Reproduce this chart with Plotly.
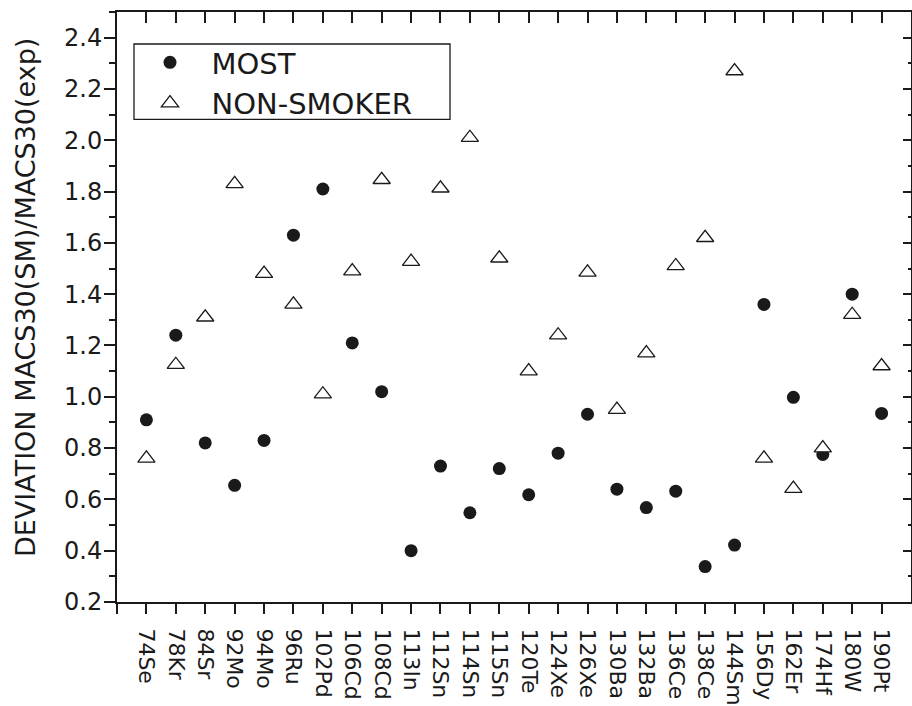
import plotly.graph_objects as go

# Isotopes along the x axis, in plotting order
isotopes = ["74Se", "78Kr", "84Sr", "92Mo", "94Mo", "96Ru", "102Pd", "106Cd",
            "108Cd", "113In", "112Sn", "114Sn", "115Sn", "120Te", "124Xe",
            "126Xe", "130Ba", "132Ba", "136Ce", "138Ce", "144Sm", "156Dy",
            "162Er", "174Hf", "180W", "190Pt"]

# MACS30 ratio (statistical model / experiment) for each code
most = [0.91, 1.24, 0.82, 0.655, 0.83, 1.63, 1.81, 1.21,
        1.02, 0.40, 0.73, 0.548, 0.72, 0.618, 0.78,
        0.932, 0.64, 0.568, 0.632, 0.338, 0.422, 1.36,
        0.998, 0.775, 1.40, 0.935]
non_smoker = [0.76, 1.125, 1.31, 1.83, 1.48, 1.36, 1.01, 1.49,
              1.846, 1.527, 1.813, 2.01, 1.54, 1.10, 1.24,
              1.485, 0.95, 1.17, 1.51, 1.62, 2.27, 0.76,
              0.642, 0.80, 1.32, 1.12]

y_ticks = [0.2, 0.4, 0.6, 0.8, 1.0, 1.2, 1.4, 1.6, 1.8, 2.0, 2.2, 2.4]
y_tick_text = [f"{v:.1f}" for v in y_ticks]
y_minor = [round(v + 0.1, 1) for v in y_ticks]

positions = list(range(1, len(isotopes) + 1))
x_tick_vals = [0] + positions
x_tick_text = [""] + isotopes

FONT = "DejaVu Sans"
INK = "#1a1a1a"

fig = go.Figure()
fig.add_trace(go.Scatter(
    x=positions, y=most, mode="markers", name="MOST",
    marker=dict(symbol="circle", size=13, color=INK, line=dict(width=0)),
))
fig.add_trace(go.Scatter(
    x=positions, y=non_smoker, mode="markers", name="NON-SMOKER",
    marker=dict(symbol="triangle-up", size=15, color="white",
                line=dict(color=INK, width=1.3)),
))

# unit-ratio reference line
fig.add_hline(y=1.0, line=dict(color=INK, width=1.3), layer="below")

L, R, T, B = 117, 1, 12, 104
W, H = 912, 706
pw, ph = W - L - R, H - T - B


def px_x(x):
    return (x - L) / pw


def px_y(y):
    return (H - B - y) / ph


axis_common = dict(showgrid=False, zeroline=False, showline=True,
                   linecolor=INK, linewidth=2, tickcolor=INK, tickwidth=2)

fig.update_layout(
    width=W, height=H,
    margin=dict(l=L, r=R, t=T, b=B),
    paper_bgcolor="white", plot_bgcolor="white",
    font=dict(family=FONT, color=INK),
    xaxis=dict(range=[0, 27], tickmode="array", tickvals=x_tick_vals,
               ticktext=x_tick_text, tickangle=90, ticks="outside", ticklen=10,
               ticklabelstandoff=10,
               tickfont=dict(family=FONT, size=22, color=INK), **axis_common),
    yaxis=dict(range=[0.2, 2.5], tickmode="array", tickvals=y_ticks,
               ticktext=y_tick_text, ticks="outside", ticklen=11,
               ticklabelstandoff=-3,
               minor=dict(tickmode="array", tickvals=y_minor, ticks="outside",
                          ticklen=6, tickwidth=2, tickcolor=INK),
               tickfont=dict(family=FONT, size=24, color=INK), **axis_common),
    xaxis2=dict(range=[0, 27], overlaying="x", anchor="y", side="top",
                tickmode="array", tickvals=x_tick_vals, showticklabels=False,
                ticks="inside", ticklen=11, **axis_common),
    yaxis2=dict(range=[0.2, 2.5], overlaying="y", anchor="x", side="right",
                tickmode="array", tickvals=y_ticks, showticklabels=False,
                ticks="inside", ticklen=8,
                minor=dict(tickmode="array", tickvals=y_minor, ticks="inside",
                           ticklen=3, tickwidth=2, tickcolor=INK),
                **axis_common),
    showlegend=True,
    legend=dict(x=px_x(128.5), y=px_y(37), xanchor="left", yanchor="top",
                bgcolor="rgba(0,0,0,0)", borderwidth=0, itemwidth=73,
                font=dict(family=FONT, size=29, color=INK)),
    shapes=[dict(type="rect", xref="paper", yref="paper",
                 x0=px_x(134), x1=px_x(450), y0=px_y(119.3), y1=px_y(44),
                 line=dict(color=INK, width=1.3), fillcolor="rgba(0,0,0,0)")],
    annotations=[dict(text="DEVIATION MACS30(SM)/MACS30(exp)", textangle=-90,
                      xref="paper", yref="paper", x=px_x(25), y=px_y(298),
                      xanchor="center", yanchor="middle", showarrow=False,
                      font=dict(family=FONT, size=27, color=INK))],
)

# an invisible trace keeps the mirrored axes active
fig.add_trace(go.Scatter(x=[None], y=[None], xaxis="x2", yaxis="y2",
                         showlegend=False, hoverinfo="skip"))

fig.write_html("out.html")
